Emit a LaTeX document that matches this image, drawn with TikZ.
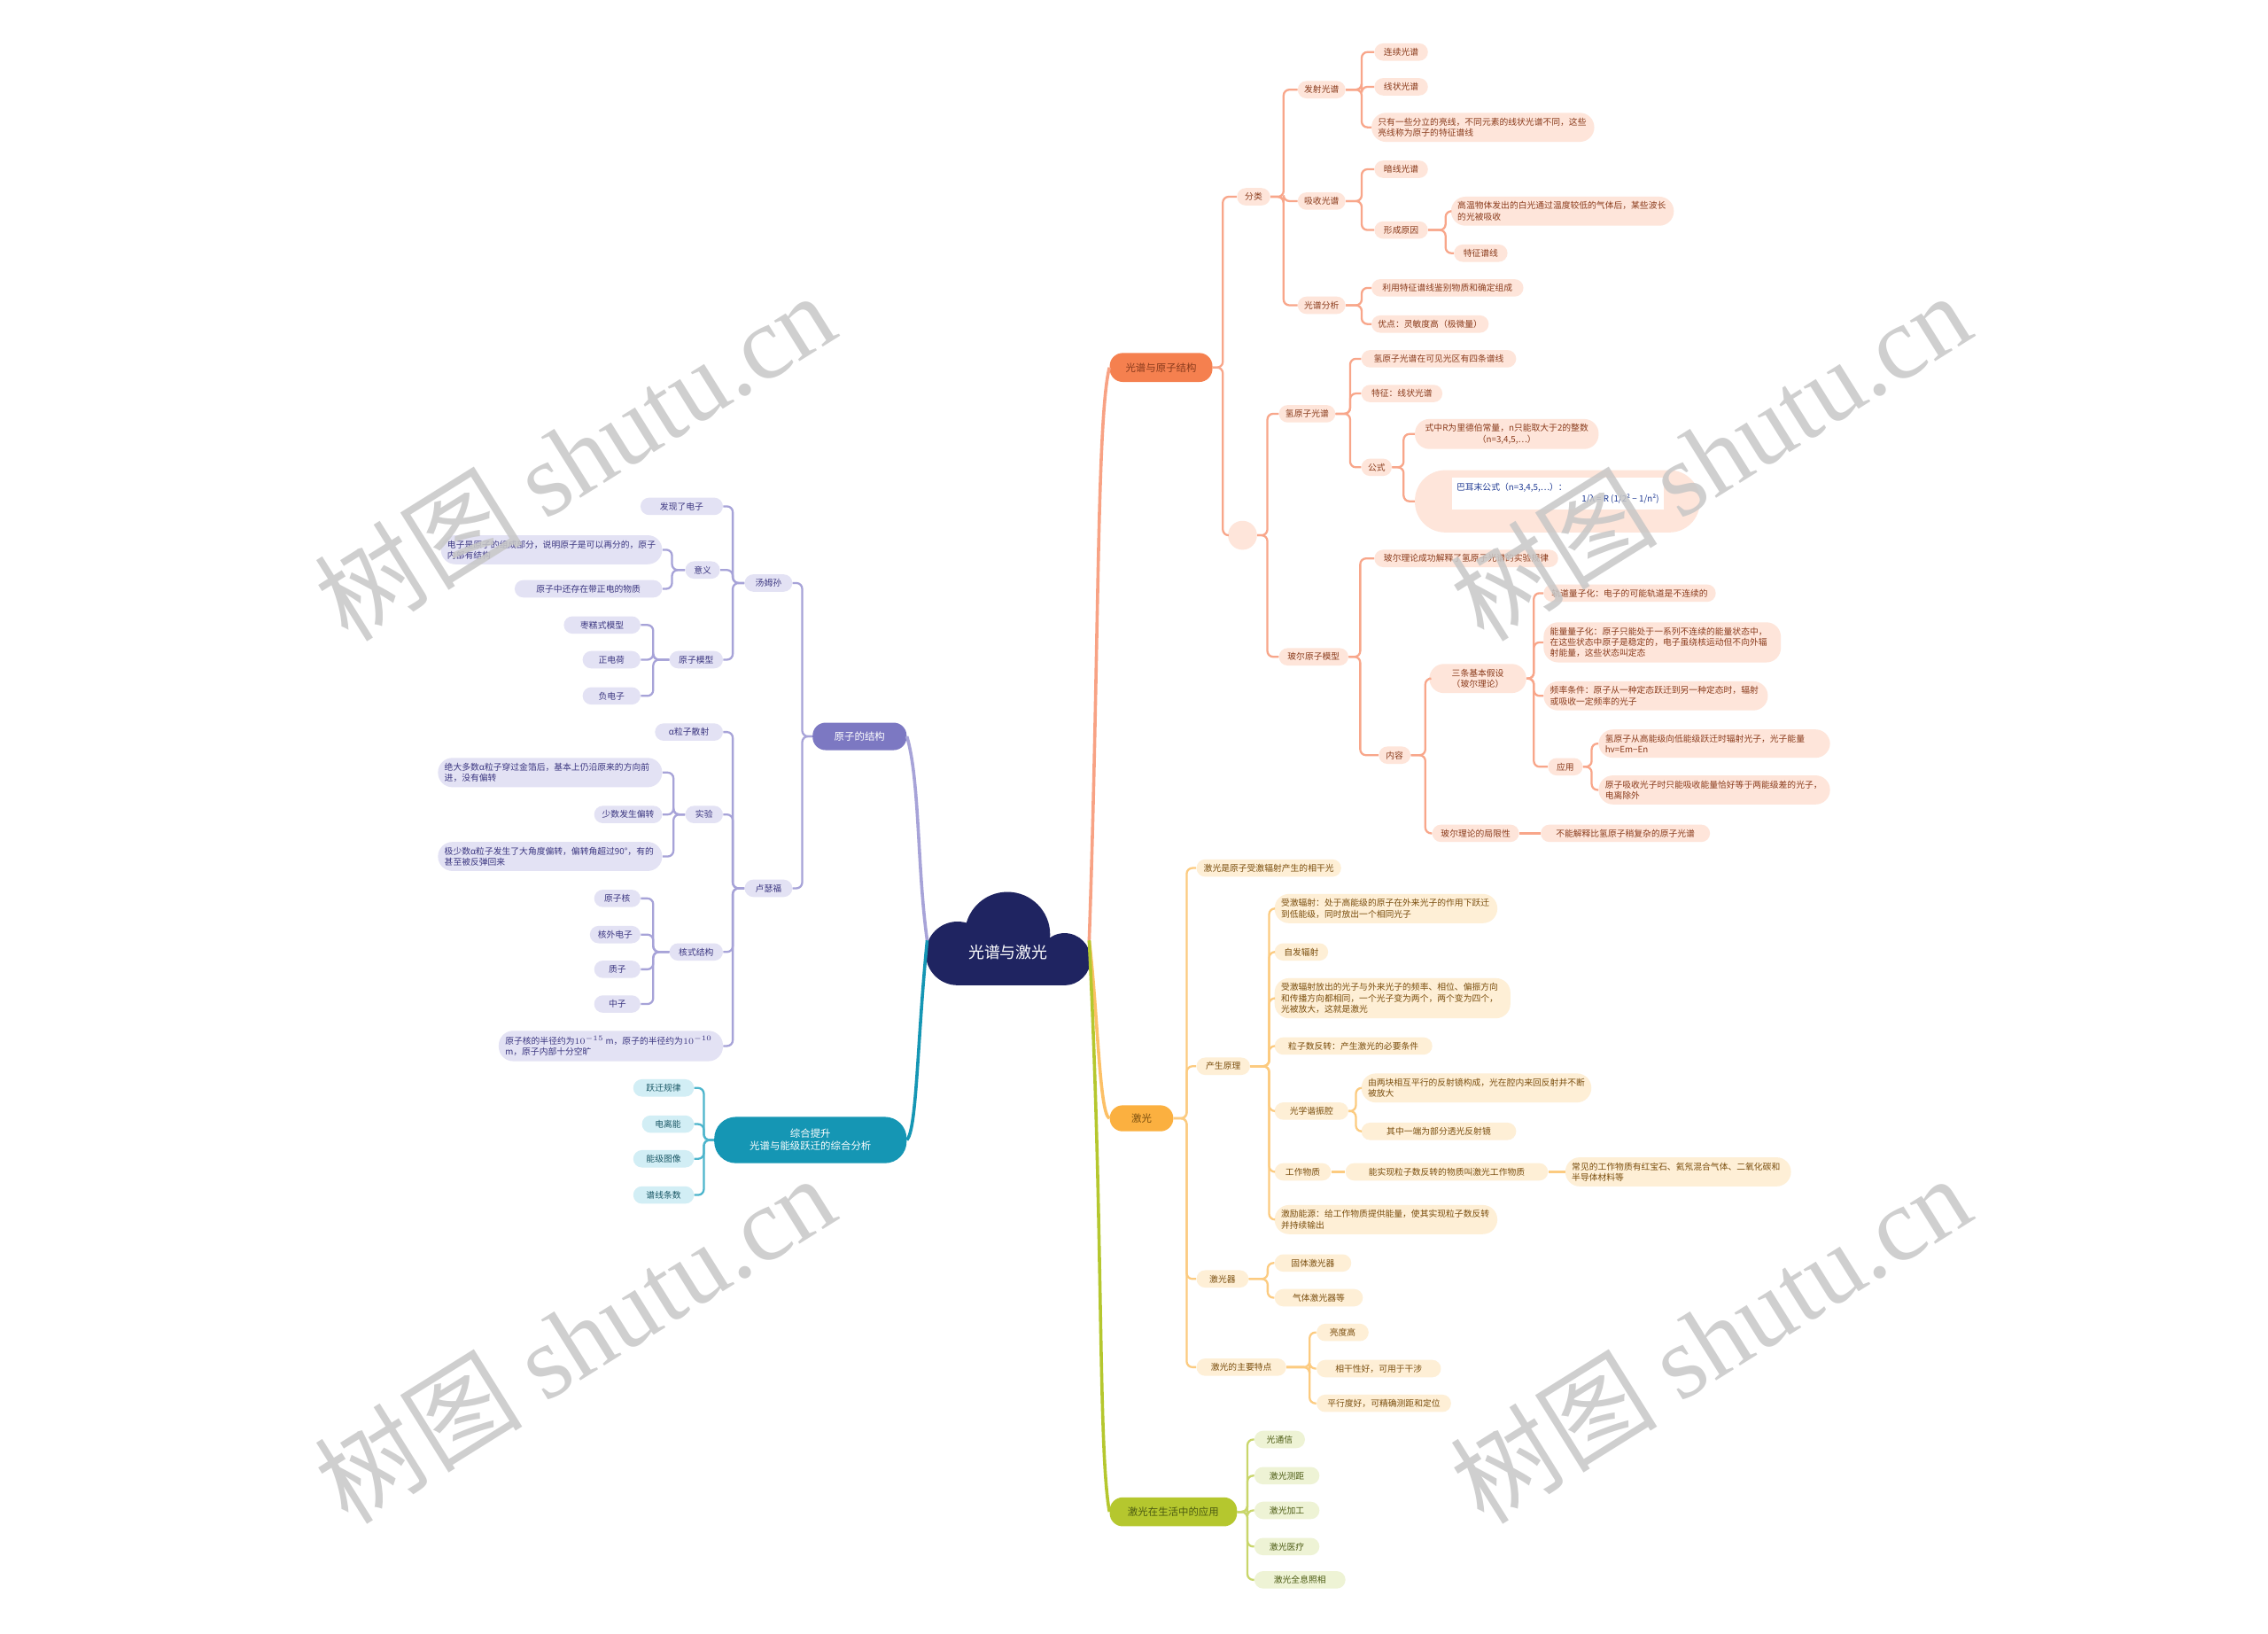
\documentclass[tikz,border=0pt]{standalone}
\usepackage{fontspec}
\setmainfont{Noto Sans CJK SC}
\newfontfamily\wmserif{Liberation Serif}
\XeTeXlinebreaklocale "zh"
\XeTeXlinebreakskip=0pt plus 0.3pt
\definecolor{navy}{HTML}{1F2461}
\definecolor{omf}{HTML}{F5804F}\definecolor{of}{HTML}{FEE5DA}\definecolor{ot}{HTML}{8A3B1C}\definecolor{ol}{HTML}{F8A68A}
\definecolor{ymf}{HTML}{FBB040}\definecolor{yf}{HTML}{FEEFD6}\definecolor{yt}{HTML}{7A4E0E}\definecolor{yl}{HTML}{FCCB80}
\definecolor{gmf}{HTML}{B5C72E}\definecolor{gf}{HTML}{EEF3D5}\definecolor{gt}{HTML}{4B5A12}\definecolor{gl}{HTML}{C9D66B}
\definecolor{pmf}{HTML}{7C78C2}\definecolor{pf}{HTML}{E3E2F4}\definecolor{pt}{HTML}{3B3680}\definecolor{pl}{HTML}{A7A3D8}
\definecolor{tmf}{HTML}{1596B4}\definecolor{tf}{HTML}{D2EEF5}\definecolor{tt}{HTML}{1B5866}\definecolor{tl}{HTML}{4DB5CC}
\definecolor{fblue}{HTML}{1F3A93}
\tikzset{
 box/.style={rounded corners=6pt, inner xsep=4.5pt, inner ysep=2.5pt, minimum height=12pt, font=\fontsize{6}{7.5}\selectfont},
 multi/.style={align=flush left, rounded corners=10pt, inner ysep=3.5pt},
 ob/.style={box, fill=of, text=ot}, yb/.style={box, fill=yf, text=yt}, gb/.style={box, fill=gf, text=gt},
 pb/.style={box, fill=pf, text=pt}, tb/.style={box, fill=tf, text=tt},
 mainb/.style={rounded corners=9pt, minimum height=20pt, inner xsep=6pt, font=\fontsize{7}{8.5}\selectfont},
 oln/.style={draw=ol, line width=1.4pt, rounded corners=4pt},
 yln/.style={draw=yl, line width=1.4pt, rounded corners=4pt},
 gln/.style={draw=gl, line width=1.4pt, rounded corners=4pt},
 pln/.style={draw=pl, line width=1.4pt, rounded corners=4pt},
 tln/.style={draw=tl, line width=1.4pt, rounded corners=4pt},
 branch/.style={line width=2.2pt},
 wm/.style={rotate=32, text=black!22, opacity=0.85, font=\fontsize{72}{76}\selectfont}
}
\begin{document}
\begin{tikzpicture}[x=1pt,y=-1pt]
\useasboundingbox (0,0) rectangle (1568,1129);
\fill[white] (0,0) rectangle (1568,1129);

% ---------- root cloud ----------
\fill[navy] (696.5,646) circle (29.5);
\fill[navy] (662,659) circle (22);
\fill[navy] (736,663) circle (18);
\fill[navy] (662,650) rectangle (736,681);
\node[text=white, font=\fontsize{11}{13}\selectfont] (root) at (697,658) {光谱与激光};
\coordinate (rR) at (753,650);
\coordinate (rL) at (641,650);

% ---------- main nodes ----------
\node[mainb, fill=omf, text=ot, anchor=west, minimum width=71pt] (om) at (767,254) {光谱与原子结构};
\node[mainb, fill=ymf, text=yt, anchor=west, minimum width=44pt, minimum height=18pt] (ym) at (767,773) {激光};
\node[mainb, fill=gmf, text=gt, anchor=west, minimum width=88pt] (gm) at (767,1045) {激光在生活中的应用};
\node[mainb, fill=pmf, text=white, anchor=east, minimum width=65pt, minimum height=19pt] (pm) at (627,509) {原子的结构};
\node[mainb, fill=tmf, text=white, anchor=east, minimum width=133pt, minimum height=32pt, rounded corners=15pt, align=flush center] (tm) at (627,788) {综合提升\\光谱与能级跃迁的综合分析};

\draw[ol!90!omf, branch] (rR) .. controls (760,450) and (758,290) .. (om.west);
\draw[ymf!80, branch] (rR) .. controls (759,700) and (760,770) .. (ym.west);
\draw[gmf, branch] (rR) .. controls (763,850) and (759,1000) .. (gm.west);
\draw[pl, branch] (rL) .. controls (634,600) and (636,540) .. (pm.east);
\draw[tmf, branch] (rL) .. controls (634,720) and (634,780) .. (tm.east);

% ---------- orange branch ----------
\node[ob, anchor=west, minimum width=23pt] (o1) at (855,136) {分类};
\node[circle, fill=of, minimum size=20pt, inner sep=0pt] (oc) at (859,370) {};
\node[ob, anchor=west, minimum width=33pt] (o11) at (897,62) {发射光谱};
\node[ob, anchor=west, minimum width=37pt] (o111) at (950,36) {连续光谱};
\node[ob, anchor=west, minimum width=37pt] (o112) at (950,60) {线状光谱};
\node[ob, multi, anchor=west, text width=145pt] (o113) at (948,88) {只有一些分立的亮线，不同元素的线状光谱不同，这些亮线称为原子的特征谱线};
\node[ob, anchor=west, minimum width=33pt] (o12) at (897,139) {吸收光谱};
\node[ob, anchor=west, minimum width=37pt] (o121) at (950,117) {暗线光谱};
\node[ob, anchor=west, minimum width=37pt] (o122) at (950,159) {形成原因};
\node[ob, multi, anchor=west, text width=145pt] (o1221) at (1003,146) {高温物体发出的白光通过温度较低的气体后，某些波长的光被吸收};
\node[ob, anchor=west, minimum width=37pt] (o1222) at (1005,175) {特征谱线};
\node[ob, anchor=west, minimum width=33pt] (o13) at (897,211) {光谱分析};
\node[ob, anchor=west, minimum width=105pt] (o131) at (948,199) {利用特征谱线鉴别物质和确定组成};
\node[ob, anchor=west, minimum width=79pt] (o132) at (948,224) {优点：灵敏度高（极微量）};

\node[ob, anchor=west, minimum width=38pt] (o2) at (884,286) {氢原子光谱};
\node[ob, anchor=west, minimum width=107pt] (o21) at (941,248) {氢原子光谱在可见光区有四条谱线};
\node[ob, anchor=west, minimum width=56pt] (o22) at (941,272) {特征：线状光谱};
\node[ob, anchor=west, minimum width=21pt] (o23) at (941,323) {公式};
\node[ob, multi, align=flush center, anchor=west, text width=118pt] (o231) at (978,300) {式中R为里德伯常量，n只能取大于2的整数（n=3,4,5,…）};
\node[box, fill=of, anchor=west, minimum width=197pt, minimum height=43pt, rounded corners=21pt] (o232) at (978,346.5) {};
\node[fill=white, text=fblue, align=flush left, text width=140pt, minimum height=22pt, inner sep=3pt, font=\fontsize{6}{8}\selectfont] (o232f) at (1077,341) {巴耳末公式（n=3,4,5,…）：\\\hspace*{\fill}1/λ = R (1/2² − 1/n²)};

\node[ob, anchor=west, minimum width=48pt] (o3) at (884,454) {玻尔原子模型};
\node[ob, anchor=west, minimum width=127pt] (o31) at (950,386) {玻尔理论成功解释了氢原子光谱的实验规律};
\node[ob, anchor=west, minimum width=22pt] (o32) at (953,522) {内容};
\node[ob, multi, align=flush center, anchor=west, text width=58pt] (o321) at (988,469) {三条基本假设\\（玻尔理论）};
\node[ob, anchor=west, minimum width=119pt] (o3211) at (1067,410) {轨道量子化：电子的可能轨道是不连续的};
\node[ob, multi, anchor=west, text width=155pt] (o3212) at (1067,444) {能量量子化：原子只能处于一系列不连续的能量状态中，在这些状态中原子是稳定的，电子虽绕核运动但不向外辐射能量，这些状态叫定态};
\node[ob, multi, anchor=west, text width=146pt] (o3213) at (1067,481) {频率条件：原子从一种定态跃迁到另一种定态时，辐射或吸收一定频率的光子};
\node[ob, anchor=west, minimum width=24pt] (o322) at (1070,530) {应用};
\node[ob, multi, anchor=west, text width=151pt] (o3221) at (1105,514) {氢原子从高能级向低能级跃迁时辐射光子，光子能量 hν=Em−En};
\node[ob, multi, anchor=west, text width=151pt] (o3222) at (1105,546) {原子吸收光子时只能吸收能量恰好等于两能级差的光子，电离除外};
\node[ob, anchor=west, minimum width=60pt] (o33) at (990,576) {玻尔理论的局限性};
\node[ob, anchor=west, minimum width=117pt] (o331) at (1065,576) {不能解释比氢原子稍复杂的原子光谱};

\draw[oln] (om.east) -- ++(7,0) |- (o1.west);
\draw[oln] (om.east) -- ++(7,0) |- (oc.west);
\foreach \c in {o11,o12,o13} \draw[oln] (o1.east) -- ++(9,0) |- (\c.west);
\foreach \c in {o111,o112,o113} \draw[oln] (o11.east) -- ++(11,0) |- (\c.west);
\foreach \c in {o121,o122} \draw[oln] (o12.east) -- ++(11,0) |- (\c.west);
\foreach \c in {o1221,o1222} \draw[oln] (o122.east) -- ++(12,0) |- (\c.west);
\foreach \c in {o131,o132} \draw[oln] (o13.east) -- ++(11,0) |- (\c.west);
\foreach \c in {o2,o3} \draw[oln] (oc.east) -- ++(7,0) |- (\c.west);
\foreach \c in {o21,o22,o23} \draw[oln] (o2.east) -- ++(10,0) |- (\c.west);
\foreach \c in {o231,o232} \draw[oln] (o23.east) -- ++(8,0) |- (\c.west);
\foreach \c in {o31,o32} \draw[oln] (o3.east) -- ++(8,0) |- (\c.west);
\foreach \c in {o321,o33} \draw[oln] (o32.east) -- ++(10,0) |- (\c.west);
\foreach \c in {o3211,o3212,o3213,o322} \draw[oln] (o321.east) -- ++(5,0) |- (\c.west);
\foreach \c in {o3221,o3222} \draw[oln] (o322.east) -- ++(6,0) |- (\c.west);
\draw[oln] (o33.east) -- (o331.west);

% ---------- yellow branch ----------
\node[yb, anchor=west, minimum width=100pt] (y1) at (827,600) {激光是原子受激辐射产生的相干光};
\node[yb, anchor=west, minimum width=37pt] (y2) at (827,737) {产生原理};
\node[yb, multi, anchor=west, text width=145pt] (y21) at (881,628) {受激辐射：处于高能级的原子在外来光子的作用下跃迁到低能级，同时放出一个相同光子};
\node[yb, anchor=west, minimum width=37pt] (y22) at (881,658) {自发辐射};
\node[yb, multi, anchor=west, text width=154pt] (y23) at (881,690) {受激辐射放出的光子与外来光子的频率、相位、偏振方向和传播方向都相同，一个光子变为两个，两个变为四个，光被放大，这就是激光};
\node[yb, anchor=west, minimum width=109pt] (y24) at (881,723) {粒子数反转：产生激光的必要条件};
\node[yb, anchor=west, minimum width=51pt] (y25) at (881,768) {光学谐振腔};
\node[yb, multi, anchor=west, text width=150pt] (y251) at (941,752) {由两块相互平行的反射镜构成，光在腔内来回反射并不断被放大};
\node[yb, anchor=west, minimum width=107pt] (y252) at (941,782) {其中一端为部分透光反射镜};
\node[yb, anchor=west, minimum width=39pt] (y26) at (881,810) {工作物质};
\node[yb, anchor=west, minimum width=140pt] (y261) at (930,810) {能实现粒子数反转的物质叫激光工作物质};
\node[yb, multi, anchor=west, text width=147pt] (y2611) at (1082,810) {常见的工作物质有红宝石、氦氖混合气体、二氧化碳和半导体材料等};
\node[yb, multi, anchor=west, text width=145pt] (y27) at (881,843) {激励能源：给工作物质提供能量，使其实现粒子数反转并持续输出};
\node[yb, anchor=west, minimum width=36pt] (y3) at (827,884) {激光器};
\node[yb, anchor=west, minimum width=53pt] (y31) at (881,873) {固体激光器};
\node[yb, anchor=west, minimum width=61pt] (y32) at (881,897) {气体激光器等};
\node[yb, anchor=west, minimum width=62pt] (y4) at (827,945) {激光的主要特点};
\node[yb, anchor=west, minimum width=36pt] (y41) at (910,921) {亮度高};
\node[yb, anchor=west, minimum width=86pt] (y42) at (910,946) {相干性好，可用于干涉};
\node[yb, anchor=west, minimum width=93pt] (y43) at (910,970) {平行度好，可精确测距和定位};

\foreach \c in {y1,y2,y3,y4} \draw[yln] (ym.east) -- ++(9,0) |- (\c.west);
\foreach \c in {y21,y22,y23,y24,y25,y26,y27} \draw[yln] (y2.east) -- ++(13,0) |- (\c.west);
\foreach \c in {y251,y252} \draw[yln] (y25.east) -- ++(5,0) |- (\c.west);
\draw[yln] (y26.east) -- (y261.west);
\draw[yln] (y261.east) -- (y2611.west);
\foreach \c in {y31,y32} \draw[yln] (y3.east) -- ++(13,0) |- (\c.west);
\foreach \c in {y41,y42,y43} \draw[yln] (y4.east) -- ++(16,0) |- (\c.west);

% ---------- green branch ----------
\node[gb, anchor=west, minimum width=35pt] (g1) at (867,995) {光通信};
\node[gb, anchor=west, minimum width=45pt] (g2) at (867,1020) {激光测距};
\node[gb, anchor=west, minimum width=45pt] (g3) at (867,1044) {激光加工};
\node[gb, anchor=west, minimum width=45pt] (g4) at (867,1069) {激光医疗};
\node[gb, anchor=west, minimum width=63pt] (g5) at (867,1092) {激光全息照相};
\foreach \c in {g1,g2,g3,g4,g5} \draw[gln] (gm.east) -- ++(7,0) |- (\c.west);

% ---------- purple branch ----------
\node[pb, anchor=east, minimum width=33pt] (p1) at (548,403) {汤姆孙};
\node[pb, anchor=east, minimum width=57pt] (p11) at (500,350) {发现了电子};
\node[pb, anchor=east, minimum width=24pt] (p12) at (498,394) {意义};
\node[pb, multi, anchor=east, text width=144pt] (p121) at (458,380) {电子是原子的组成部分，说明原子是可以再分的，原子内部有结构};
\node[pb, anchor=east, minimum width=102pt] (p122) at (458,407) {原子中还存在带正电的物质};
\node[pb, anchor=east, minimum width=37pt] (p13) at (500,456) {原子模型};
\node[pb, anchor=east, minimum width=53pt] (p131) at (443,432) {枣糕式模型};
\node[pb, anchor=east, minimum width=40pt] (p132) at (443,456) {正电荷};
\node[pb, anchor=east, minimum width=40pt] (p133) at (443,481) {负电子};
\node[pb, anchor=east, minimum width=33pt] (p2) at (548,614) {卢瑟福};
\node[pb, anchor=east, minimum width=47pt] (p21) at (500,506) {α粒子散射};
\node[pb, anchor=east, minimum width=26pt] (p22) at (500,563) {实验};
\node[pb, multi, anchor=east, text width=146pt] (p221) at (458,534) {绝大多数α粒子穿过金箔后，基本上仍沿原来的方向前进，没有偏转};
\node[pb, anchor=east, minimum width=47pt] (p222) at (458,563) {少数发生偏转};
\node[pb, multi, anchor=east, text width=146pt] (p223) at (458,592) {极少数α粒子发生了大角度偏转，偏转角超过90°，有的甚至被反弹回来};
\node[pb, anchor=east, minimum width=37pt] (p23) at (500,658) {核式结构};
\node[pb, anchor=east, minimum width=32pt] (p231) at (443,621) {原子核};
\node[pb, anchor=east, minimum width=35pt] (p232) at (443,646) {核外电子};
\node[pb, anchor=east, minimum width=32pt] (p233) at (443,670) {质子};
\node[pb, anchor=east, minimum width=32pt] (p234) at (443,694) {中子};
\node[pb, multi, anchor=east, text width=146pt] (p24) at (500,723) {原子核的半径约为$10^{-15}$ m，原子的半径约为$10^{-10}$ m，原子内部十分空旷};

\foreach \c in {p1,p2} \draw[pln] (pm.west) -- ++(-7,0) |- (\c.east);
\foreach \c in {p11,p12,p13} \draw[pln] (p1.west) -- ++(-8,0) |- (\c.east);
\foreach \c in {p121,p122} \draw[pln] (p12.west) -- ++(-9,0) |- (\c.east);
\foreach \c in {p131,p132,p133} \draw[pln] (p13.west) -- ++(-11,0) |- (\c.east);
\foreach \c in {p21,p22,p23,p24} \draw[pln] (p2.west) -- ++(-8,0) |- (\c.east);
\foreach \c in {p221,p222,p223} \draw[pln] (p22.west) -- ++(-8,0) |- (\c.east);
\foreach \c in {p231,p232,p233,p234} \draw[pln] (p23.west) -- ++(-11,0) |- (\c.east);

% ---------- teal branch ----------
\node[tb, anchor=east, minimum width=42pt] (t1) at (480,752) {跃迁规律};
\node[tb, anchor=east, minimum width=36pt] (t2) at (480,777) {电离能};
\node[tb, anchor=east, minimum width=42pt] (t3) at (480,801) {能级图像};
\node[tb, anchor=east, minimum width=42pt] (t4) at (480,826) {谱线条数};
\foreach \c in {t1,t2,t3,t4} \draw[tln] (tm.west) -- ++(-7,0) |- (\c.east);

% ---------- watermarks ----------
\foreach \n/\x/\y in {w1/397/315, w2/1182/315, w3/397/925, w4/1182/925}
  \node[wm] (\n) at (\x,\y) {树图 {\wmserif shutu.cn}};
\end{tikzpicture}
\end{document}
